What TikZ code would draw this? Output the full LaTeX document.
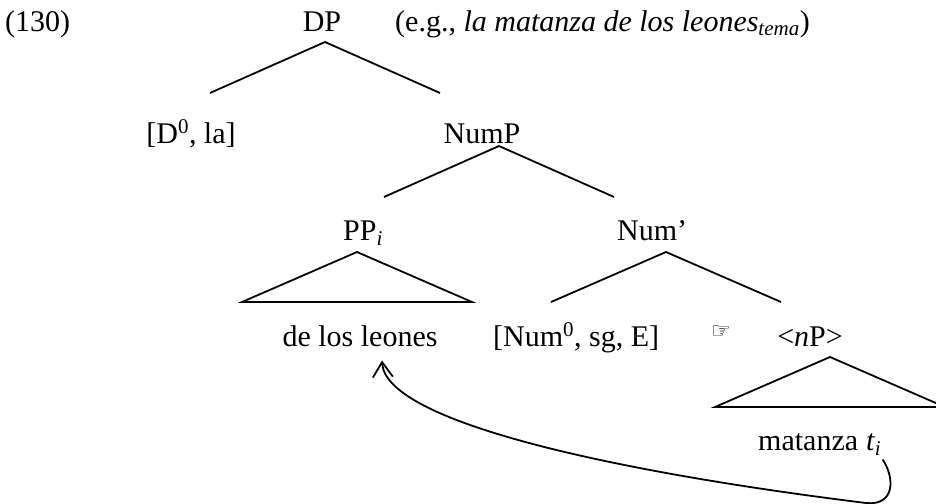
\documentclass[tikz,border=0pt]{standalone}
\usepackage{fontspec}
\setmainfont{Liberation Serif}
\newfontfamily\handfont{DejaVu Sans}
\usetikzlibrary{arrows.meta}

\tikzset{
  word/.style={inner sep=0pt,anchor=base,font=\fontsize{30}{36}\selectfont},
  branch/.style={line width=1.8pt},
  moved/.style={line width=1.8pt,-{Straight Barb[length=15pt,width=20pt]}}
}

\begin{document}
\begin{tikzpicture}[x=1pt,y=-1pt]
\useasboundingbox (0,0) rectangle (936,503);

\node[word,anchor=base west]
(ex)
at (5,32)
{(130)};

\node[word]
(DP)
at (322,32)
{DP};

\node[word,anchor=base west]
(eg)
at (395,32)
{(e.g., \textit{la matanza de los leones}\textsubscript{\textit{tema}})};

\node[word]
(Dla)
at (191,143)
{[D\textsuperscript{0}, la]};

\node[word]
(NumP)
at (482,143)
{NumP};

\node[word,anchor=base west]
(PP)
at (343,240)
{PP\textsubscript{\textit{i}}};

\node[word,anchor=base west]
(Numbar)
at (617,240)
{Num’};

\node[word]
(leones)
at (360,346)
{de los leones};

\node[word,anchor=base west]
(Num0)
at (493,346)
{[Num\textsuperscript{0}, sg, E]};

\node[inner sep=0pt,font=\handfont\fontsize{22}{26}\selectfont]
(hand)
at (721,332)
{☞};

\node[word]
(nP)
at (810,346)
{<\textit{n}P>};

\node[word,anchor=base west]
(mat)
at (758,450)
{matanza};

\node[word,anchor=base west]
(ti)
at ([shift={(7.5,0)}]mat.base east)
{\textit{t}\textsubscript{\textit{i}}};

% tree branches
\coordinate (DPa) at (325,42);
\coordinate (DPl) at (210,93);
\coordinate (DPr) at (440,93);

\coordinate (NumPa) at (499,146);
\coordinate (NumPl) at (384,197);
\coordinate (NumPr) at (614,197);

\coordinate (PPa) at (357,252);
\coordinate (PPl) at (242,302);
\coordinate (PPr) at (472,302);

\coordinate (Numbara) at (666,252);
\coordinate (Numbarl) at (551,302);
\coordinate (Numbarr) at (781,302);

\coordinate (nPa) at (830,357);
\coordinate (nPl) at (715,407);
\coordinate (nPr) at (945,407);

\draw[branch] (DPl) -- (DPa) -- (DPr);
\draw[branch] (NumPl) -- (NumPa) -- (NumPr);
\draw[branch] (PPl) -- (PPa) -- (PPr) -- cycle;
\draw[branch] (Numbarl) -- (Numbara) -- (Numbarr);
\draw[branch] (nPl) -- (nPa) -- (nPr) -- cycle;

% movement
\coordinate (bend) at (866,503);
\draw[moved] ([shift={(9,4)}]ti.south)
  .. controls (895,478) and (895,506) .. (bend)
  .. controls (600,470) and (385,420) .. ([shift={(22,14)}]leones.south);

\end{tikzpicture}
\end{document}
